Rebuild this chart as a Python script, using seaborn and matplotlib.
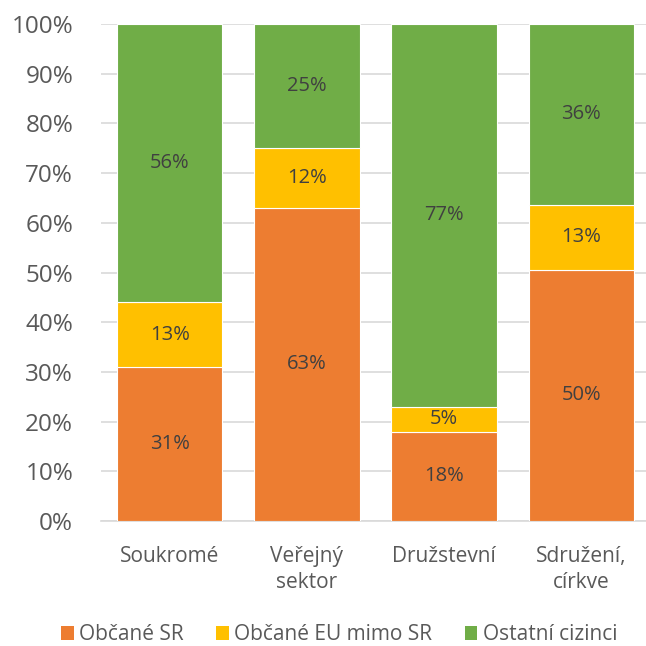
import numpy as np
import pandas as pd
import matplotlib
matplotlib.use("Agg")
import matplotlib.pyplot as plt
import seaborn as sns
from matplotlib.ticker import PercentFormatter, MultipleLocator
from matplotlib.patches import Patch

categories = ["Soukromé", "Veřejný\nsektor", "Družstevní", "Sdružení,\ncírkve"]
obcane_sr = [31, 63, 18, 50]
obcane_eu = [13, 12, 5, 13]
ostatni = [56, 25, 77, 36]
series_names = ["Občané SR", "Občané EU mimo SR", "Ostatní cizinci"]
colors = ["#ED7D31", "#FFC000", "#70AD47"]

sns.set_theme(style="white")
plt.rcParams["font.family"] = ["Open Sans", "DejaVu Sans"]

values = np.array([obcane_sr, obcane_eu, ostatni], dtype=float)
shares = values / values.sum(axis=0) * 100  # 100 % stacked

fig = plt.figure(figsize=(6.46, 6.46), dpi=100)
ax = fig.add_axes([101 / 646, (646 - 521) / 646, 549 / 646, 497 / 646])

bottom = np.zeros(len(categories))
for i, name in enumerate(series_names):
    df = pd.DataFrame({"cat": categories, "share": shares[i]})
    sns.barplot(data=df, x="cat", y="share", bottom=bottom, color=colors[i],
                width=0.77, edgecolor="white", linewidth=0.8, ax=ax,
                saturation=1, zorder=3)
    for j in range(len(categories)):
        ax.text(j, bottom[j] + shares[i][j] / 2, f"{int(values[i][j])}%",
                ha="center", va="center", fontsize=14.5, color="#404040",
                zorder=4)
    bottom = bottom + shares[i]

ax.set_xlim(-0.5, 3.5)
ax.set_ylim(0, 100)
ax.yaxis.set_major_locator(MultipleLocator(10))
ax.yaxis.set_major_formatter(PercentFormatter(decimals=0))
ax.grid(axis="y", color="#D9D9D9", linewidth=1.2, zorder=0)
ax.set_axisbelow(True)
for s in ["top", "right", "left"]:
    ax.spines[s].set_visible(False)
ax.spines["bottom"].set_color("#D9D9D9")
ax.spines["bottom"].set_linewidth(1.2)
ax.set_xlabel("")
ax.set_ylabel("")
ax.tick_params(axis="y", labelsize=17.5, colors="#595959", length=0, pad=20)
ax.tick_params(axis="x", labelsize=15, colors="#595959", length=0, pad=18)
for lbl in ax.get_xticklabels():
    lbl.set_linespacing(1.3)

handles = [Patch(facecolor=c, edgecolor="none") for c in colors]
fig.legend(handles, series_names, loc="center", bbox_to_anchor=(0.525, 11 / 646),
           ncol=3, frameon=False, fontsize=15, labelcolor="#595959",
           handlelength=0.62, handleheight=0.62, handletextpad=0.25,
           columnspacing=1.55)

fig.savefig("out.png", dpi=100)
